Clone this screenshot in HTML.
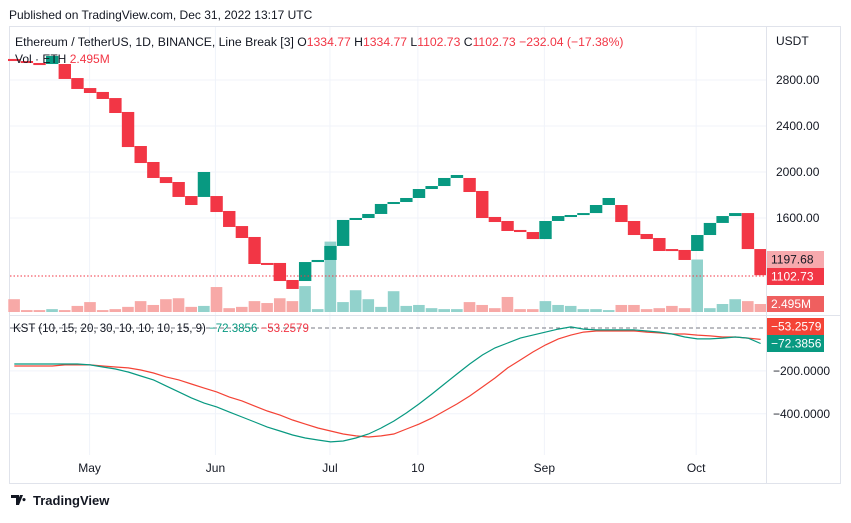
<!DOCTYPE html>
<html><head><meta charset="utf-8"><style>
body{margin:0;background:#fff;font-family:"Liberation Sans",sans-serif;}
svg text{font-family:"Liberation Sans",sans-serif;}
</style></head><body>
<svg id="c" width="851" height="518" xmlns="http://www.w3.org/2000/svg">
<text x="9" y="19" font-size="12" fill="#131722">Published on TradingView.com, Dec 31, 2022 13:17 UTC</text>
<rect x="9.5" y="26.5" width="831" height="457" fill="none" stroke="#e0e3eb"/>
<g id="grid"></g>
<g id="vol"></g>
<g id="bricks"></g>
<line x1="10" y1="276" x2="766" y2="276" stroke="#f23645" stroke-dasharray="1.5,2"/>
<line x1="10" y1="315.5" x2="840" y2="315.5" stroke="#e0e3eb"/>
<line x1="10" y1="328" x2="766" y2="328" stroke="#787b86" stroke-dasharray="4,3"/>
<g id="kst"></g>
<line x1="766.5" y1="27" x2="766.5" y2="483" stroke="#e0e3eb"/>
<g id="axes" font-size="12" fill="#131722"></g>
<text x="15" y="46" font-size="12.2" fill="#131722">Ethereum / TetherUS, 1D, BINANCE, Line Break [3]  O<tspan fill="#f23645">1334.77</tspan>  H<tspan fill="#f23645">1334.77</tspan>  L<tspan fill="#f23645">1102.73</tspan>  C<tspan fill="#f23645">1102.73</tspan>  <tspan fill="#f23645">−232.04 (−17.38%)</tspan></text>
<text x="15" y="63" font-size="12" fill="#131722">Vol · ETH  <tspan fill="#f23645">2.495M</tspan></text>
<text x="13" y="332" font-size="11.5" fill="#131722">KST (10, 15, 20, 30, 10, 10, 10, 15, 9)  <tspan fill="#089981">−72.3856</tspan>  <tspan fill="#f23645">−53.2579</tspan></text>
<g>
<path d="M11 495h8v10h-3v-7h-5z M20 495l3 0-4 10h-3z M24 498a1.6 1.6 0 1 0 0.01 0z" fill="#131722"/>
<text x="33" y="505" font-size="13" font-weight="bold" fill="#131722">TradingView</text>
</g>
</svg>
<script>
const opens=[2983,2965,2948,2939,2939,2817,2730,2696,2643,2522,2226,2087,1956,1913,1791,1783,1791,1661,1530,1435,1209,1209,1061,1052,1217,1235,1357,1583,1600,1635,1722,1739,1774,1852,1878,1948,1948,1835,1609,1574,1496,1478,1417,1574,1617,1626,1643,1713,1713,1574,1461,1426,1330,1322,1313,1452,1557,1617,1643,1330];
const closes=[2965,2948,2930,3009,2809,2722,2687,2635,2513,2217,2078,1948,1904,1783,1713,2000,1652,1522,1426,1200,1200,1052,983,1217,1235,1357,1583,1600,1635,1722,1739,1774,1852,1878,1948,1974,1826,1600,1565,1487,1478,1417,1574,1617,1626,1643,1713,1774,1565,1452,1417,1313,1313,1235,1452,1557,1617,1643,1330,1102.73];
const volumes=[4.0,0.6,0.6,0.9,0.6,1.9,3.1,0.6,0.9,1.6,3.4,2.2,4.0,4.3,1.6,1.9,7.8,1.2,1.6,3.4,2.8,4.3,3.4,8.1,0.9,22.0,3.1,6.8,4.0,1.6,6.5,1.9,2.2,1.2,0.9,0.9,3.1,2.2,1.2,4.7,0.9,0.9,3.4,2.2,1.9,0.9,0.9,0.6,2.2,2.2,0.9,1.2,1.9,1.2,16.4,1.2,2.495,4.0,3.4,2.495];
const kstValues=[-168,-168,-168,-168,-168,-168,-172,-182,-191,-205,-224,-242,-270,-298,-326,-350,-368,-392,-415,-438,-462,-480,-499,-513,-522,-531,-527,-513,-494,-466,-434,-396,-354,-308,-261,-214,-168,-126,-93,-70,-47,-33,-19,-5,5,-5,-9,-9,-9,-9,-14,-19,-28,-42,-51,-51,-47,-42,-47,-72.39];
const signalValues=[-177,-177,-177,-177,-172,-172,-172,-177,-182,-186,-196,-210,-228,-242,-261,-280,-298,-322,-340,-364,-387,-406,-429,-448,-466,-480,-494,-503,-508,-503,-494,-471,-448,-420,-387,-354,-317,-275,-233,-186,-149,-112,-79,-51,-33,-19,-14,-14,-14,-14,-19,-23,-28,-28,-33,-37,-42,-42,-47,-53.26];
const priceTicks=[2800,2400,2000,1600];
const kstTicks=[-200,-400];
const timeLabels=["May","Jun","Jul","10","Sep","Oct"];
const timeIdx=[6.45,16.4,25.45,32.4,42.4,54.4];

const NS="http://www.w3.org/2000/svg";
const bx=i=>8+i*12.65, bw=12.4;
const py=p=>80+(2800-p)*0.115;
const vy=v=>312-v*3.2;
const ky=v=>328-v*0.2145;
function mk(t,a,parent){const e=document.createElementNS(NS,t);for(const k in a)e.setAttribute(k,a[k]);document.getElementById(parent).appendChild(e);return e;}

priceTicks.forEach(p=>{const l=mk('line',{x1:10,x2:766,y1:py(p),y2:py(p),stroke:'#f0f3fa'},'grid');


const t=mk('text',{x:776,y:py(p)+4},'axes');t.textContent=p.toFixed(2);

});
kstTicks.forEach(v=>{const l=mk('line',{x1:10,x2:766,y1:ky(v),y2:ky(v),stroke:'#f0f3fa'},'grid');


const t=mk('text',{x:773,y:ky(v)+4},'axes');t.textContent='−'+Math.abs(v).toFixed(4);

});
timeLabels.forEach((s,k)=>{const x=bx(timeIdx[k]);const l=mk('line',{x1:x,x2:x,y1:27,y2:455,stroke:'#f0f3fa'},'grid');


const t=mk('text',{x:x,y:472,'text-anchor':'middle'},'axes');t.textContent=s;

});
const u=mk('text',{x:776,y:45},'axes');u.textContent='USDT';



opens.forEach((o,i)=>{const c=closes[i];const up=c>o;
const v=mk('rect',{x:bx(i)+0.3,y:vy(volumes[i]),width:bw-0.8,height:312-vy(volumes[i]),fill:up?'#92d2cc':'#f7a9a7'},'vol');


const y1=py(Math.max(o,c)),y2=py(Math.min(o,c));
const r=mk('rect',{x:bx(i),y:y1,width:bw,height:Math.max(2,y2-y1),fill:up?'#089981':'#f23645'},'bricks');

});

function line(arr,col,name){const d=arr.map((v,i)=>(i?'L':'M')+(bx(i)+6.3).toFixed(1)+' '+ky(v).toFixed(1)).join(' ');
const p=mk('path',{d:d,fill:'none',stroke:col,'stroke-width':1.2},'kst');

}
line(signalValues,'#f44336','kst-signal-line');
line(kstValues,'#089981','kst-line');

function tag(y,h,bg,fg,txt,name){const r=mk('rect',{x:767,y:y,width:57,height:h,fill:bg},'axes');


const t=mk('text',{x:771,y:y+h/2+4,fill:fg},'axes');t.textContent=txt;

}
tag(251,17,'#f7a9ad','#131722','1197.68','prev-close-tag');
tag(268,17,'#f23645','#fff','1102.73','last-price-tag');
tag(296,16,'#ef5f5f','#fff','2.495M','volume-tag');
tag(318,17,'#f44336','#fff','−53.2579','kst-signal-tag');
tag(335,17,'#089981','#fff','−72.3856','kst-tag');
</script>
</body></html>
